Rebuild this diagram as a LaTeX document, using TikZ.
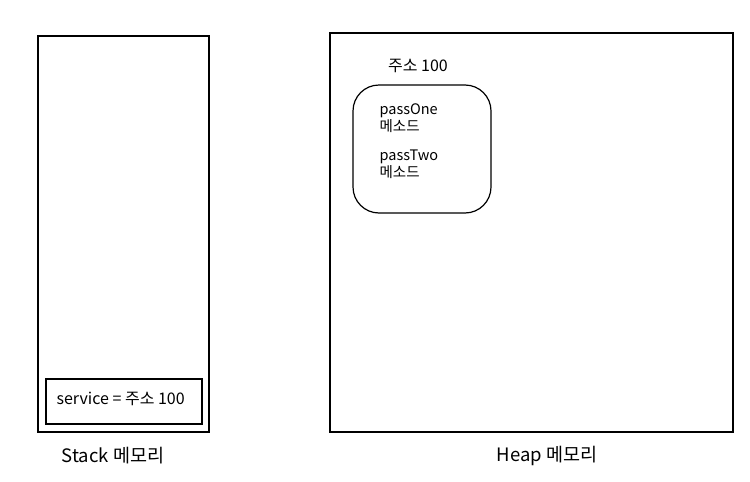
\documentclass[tikz,border=0pt]{standalone}
\usepackage{fontspec}
\setmainfont{Noto Sans CJK KR}
\begin{document}
\begin{tikzpicture}[x=1pt, y=-1pt, font=\fontsize{16}{18}\selectfont, line width=1.2pt]

\tikzset{
  area/.style={draw, rectangle, inner sep=0pt, outer sep=0pt},
  objbox/.style={draw, rectangle, rounded corners=26pt, inner sep=0pt},
  txt/.style={anchor=west, inner sep=0pt, align=left},
  method/.style={txt, font=\fontsize{14.5}{16.5}\selectfont},
  caption/.style={font=\fontsize{18.5}{20}\selectfont}
}

\useasboundingbox (0,0) rectangle (750,482);

% Stack
\node[area, minimum width=171pt, minimum height=396pt] (stack) at (123.5,234) {};
\node[area, minimum width=156pt, minimum height=45pt] (svc) at (124,401.5) {};
\node[txt] (svctxt) at (56,399) {service = 주소 100};
\node[caption] (stacklbl) at (113,456) {Stack 메모리};

% Heap
\node[area, minimum width=403pt, minimum height=399pt] (heap) at (531.5,232.5) {};
\node[objbox, minimum width=138pt, minimum height=128pt] (obj) at (422,149) {};
\node (addr) at (418,66) {주소 100};
\node[method] (one) at (379,118) {passOne\\메소드};
\node[method] (two) at (379,164) {passTwo\\메소드};
\node[caption] (heaplbl) at (547,456) {Heap 메모리};

\end{tikzpicture}
\end{document}
